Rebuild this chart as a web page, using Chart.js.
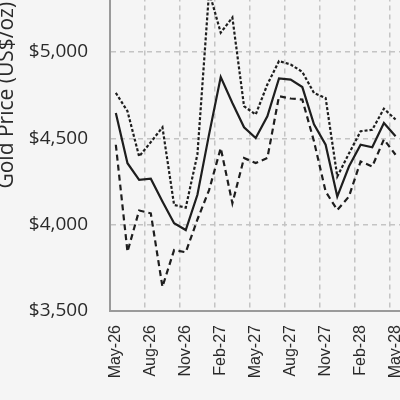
<!DOCTYPE html>
<html>
<head>
<meta charset="utf-8">
<script src="https://cdn.jsdelivr.net/npm/chart.js@4"></script>
<style>
  body { margin: 0; background: #f5f5f5; overflow: hidden; width: 400px; height: 400px; position: relative; }
  #wrap { position: absolute; left: -12px; top: -154px; width: 441px; height: 554px; }
</style>
</head>
<body>
<div id="wrap"><canvas id="myChart"></canvas></div>
<script>
const months = [
  "May-26", "Jun-26", "Jul-26", "Aug-26", "Sep-26", "Oct-26", "Nov-26",
  "Dec-26", "Jan-27", "Feb-27", "Mar-27", "Apr-27", "May-27", "Jun-27",
  "Jul-27", "Aug-27", "Sep-27", "Oct-27", "Nov-27", "Dec-27", "Jan-28",
  "Feb-28", "Mar-28", "Apr-28", "May-28",
];
const basePrice = [
  4647, 4356, 4260, 4266, 4134, 4008, 3969, 4173, 4523, 4855, 4705, 4564,
  4502, 4628, 4847, 4840, 4797, 4581, 4463, 4163, 4337, 4463, 4448, 4589, 4512,
];
const highPrice = [
  4763, 4657, 4395, 4478, 4564, 4114, 4099, 4407, 5350, 5112, 5200, 4686,
  4638, 4812, 4948, 4928, 4885, 4763, 4734, 4279, 4412, 4541, 4550, 4672, 4609,
];
const lowPrice = [
  4463, 3843, 4082, 4066, 3640, 3853, 3840, 4030, 4200, 4444, 4124, 4386,
  4357, 4386, 4744, 4731, 4725, 4483, 4192, 4085, 4163, 4366, 4337, 4494, 4405,
];
const yTicks = [3500, 4000, 4500, 5000, 5500, 6000];

const ctx = document.getElementById("myChart");
const gridGray = "#c4c4c4";
const ink = "#1e1e1e";

const data = {
  labels: months,
  datasets: [
    { label: "Base", data: basePrice, borderColor: ink, borderWidth: 2.2 },
    { label: "High", data: highPrice, borderColor: ink, borderWidth: 2.2, borderDash: [3, 2] },
    { label: "Low", data: lowPrice, borderColor: ink, borderWidth: 2.2, borderDash: [6, 4] },
  ],
};

const config = {
  type: "line",
  data: data,
  options: {
    responsive: true,
    maintainAspectRatio: false,
    animation: false,
    layout: { padding: { top: 10, right: 12, left: 0, bottom: 0 } },
    elements: { point: { radius: 0 }, line: { tension: 0 } },
    plugins: { legend: { display: false }, tooltip: { enabled: false } },
    scales: {
      x: {
        offset: true,
        afterFit: (scale) => { scale.height = 89; },
        grid: {
          offset: true,
          drawTicks: false,
          color: (c) => (c.index > 0 && c.index % 3 === 0 ? gridGray : "transparent"),
          lineWidth: 1.5,
        },
        // dash here = dashed gridlines, the axis line itself stays solid
        border: { color: "#9a9a9a", width: 2, dash: [5, 4] },
        ticks: {
          autoSkip: false,
          maxRotation: 90,
          minRotation: 90,
          padding: 14,
          color: "#2a2a2a",
          font: { family: "Liberation Sans", size: 16 },
          callback: function (val, i) { return i % 3 === 0 ? months[i] : ""; },
        },
      },
      y: {
        min: 3500,
        max: 6000,
        afterFit: (scale) => { scale.width = 122; },
        afterBuildTicks: (scale) => { scale.ticks = yTicks.map((v) => ({ value: v })); },
        grid: { drawTicks: false, color: gridGray, lineWidth: 1.5 },
        border: { color: "#9a9a9a", width: 2, dash: [5, 4] },
        ticks: {
          padding: 22,
          color: "#2a2a2a",
          font: { family: "Open Sans", size: 19 },
          callback: (v) => "$" + v.toLocaleString("en-US"),
        },
        title: {
          display: true,
          text: "Gold Price (US$/oz)",
          color: "#2a2a2a",
          font: { family: "Open Sans", size: 21 },
          padding: { top: 6, bottom: 0 },
        },
      },
    },
  },
};

const myChart = new Chart(ctx, config);
</script>
</body>
</html>
